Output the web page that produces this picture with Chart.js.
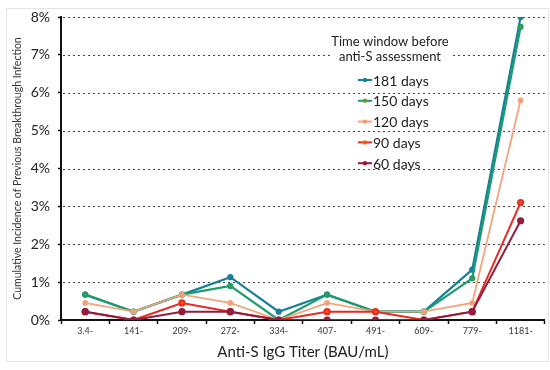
<!DOCTYPE html>
<html>
<head>
<meta charset="utf-8">
<script src="https://cdn.jsdelivr.net/npm/chart.js@4.4.1/dist/chart.umd.min.js"></script>
<style>
  html, body { margin: 0; padding: 0; background: #fff; }
  #wrap { position: relative; width: 550px; height: 370px; }
  #frame { position: absolute; left: 6px; top: 8px; width: 541px; height: 352px; border: 1px solid #e4e4e4; pointer-events: none; }
</style>
</head>
<body>
<div id="wrap">
  <canvas id="myChart" width="550" height="370"></canvas>
  <div id="frame"></div>
</div>
<script>
// titer bins along the x axis
var titers = ['3.4-', '141-', '209-', '272-', '334-', '407-', '491-', '609-', '779-', '1181-'];

// cumulative incidence (%) per time window
var days181 = [0.67, 0.22, 0.67, 1.13, 0.22, 0.67, 0.22, 0.22, 1.33, 8.0];
var days150 = [0.67, 0.22, 0.67, 0.90, 0.00, 0.67, 0.22, 0.22, 1.10, 7.74];
var days120 = [0.45, 0.22, 0.67, 0.45, 0.00, 0.45, 0.22, 0.22, 0.45, 5.80];
var days90  = [0.22, 0.00, 0.45, 0.22, 0.00, 0.22, 0.22, 0.00, 0.22, 3.10];
var days60  = [0.22, 0.00, 0.22, 0.22, 0.00, 0.00, 0.00, 0.00, 0.22, 2.62];

var yTicks = [0, 1, 2, 3, 4, 5, 6, 7, 8];

var legendTitle = ['Time window before', 'anti-S assessment'];

// dotted horizontal grid, drawn under the lines
var dottedGrid = {
  id: 'dottedGrid',
  beforeDatasetsDraw(chart) {
    var ctx = chart.ctx, y = chart.scales.y, a = chart.chartArea;
    ctx.save();
    ctx.strokeStyle = '#444';
    ctx.lineWidth = 1.2;
    ctx.setLineDash([2, 3]);
    yTicks.forEach(function (v) {
      if (v === 0) return;
      var py = Math.round(y.getPixelForValue(v)) + 0.5;
      ctx.beginPath();
      ctx.moveTo(a.left + 2, py);
      ctx.lineTo(a.right, py);
      ctx.stroke();
    });
    ctx.restore();
  }
};

// legend drawn inside the plot, like the original
var insideLegend = {
  id: 'insideLegend',
  afterDatasetsDraw(chart) {
    var ctx = chart.ctx;
    ctx.save();
    // white box behind the title cuts the 7% grid line
    ctx.fillStyle = '#fff';
    ctx.fillRect(330, 34, 122, 30);
    ctx.font = '13px Lato';
    ctx.fillStyle = '#222';
    ctx.textAlign = 'center';
    ctx.textBaseline = 'middle';
    ctx.fillText(legendTitle[0], 390, 42);
    ctx.fillText(legendTitle[1], 390, 57);
    ctx.textAlign = 'left';
    ctx.font = '14px Lato';
    var items = chart.data.datasets;
    items.forEach(function (ds, i) {
      var y = 80 + i * 20.8;
      ctx.strokeStyle = ds.borderColor;
      ctx.lineWidth = 2;
      ctx.beginPath();
      ctx.moveTo(358, y);
      ctx.lineTo(372, y);
      ctx.stroke();
      ctx.fillStyle = ds.pointBackgroundColor;
      ctx.beginPath();
      ctx.arc(365, y, 2.2, 0, Math.PI * 2);
      ctx.fill();
      ctx.fillStyle = '#222';
      ctx.fillText(ds.label, 373, y + 1);
    });
    ctx.restore();
  }
};

var ctx = document.getElementById('myChart');
var myChart = new Chart(ctx, {
  type: 'line',
  data: {
    labels: titers,
    datasets: [
      {
        label: '181 days',
        data: days181,
        borderColor: '#16809a',
        pointBackgroundColor: '#16809a',
        borderWidth: 2.2,
        order: 5
      },
      {
        label: '150 days',
        data: days150,
        borderColor: '#1c9c6c',
        pointBackgroundColor: '#6c9a3a',
        borderWidth: 2.2,
        order: 4
      },
      {
        label: '120 days',
        data: days120,
        borderColor: '#f2a47c',
        pointBackgroundColor: '#ef9c74',
        borderWidth: 1.8,
        order: 3
      },
      {
        label: '90 days',
        data: days90,
        borderColor: '#e42a22',
        pointBackgroundColor: '#f55a10',
        borderWidth: 2,
        pointRadius: 2.6,
        order: 2
      },
      {
        label: '60 days',
        data: days60,
        borderColor: '#931c3e',
        pointBackgroundColor: '#931c3e',
        borderWidth: 2,
        pointRadius: 2.6,
        order: 1
      }
    ]
  },
  options: {
    responsive: false,
    animation: false,
    layout: { padding: { left: 0, right: 5, top: 17, bottom: 0 } },
    elements: {
      line: { tension: 0, fill: false },
      point: { radius: 2, borderWidth: 0, hoverRadius: 3 }
    },
    plugins: {
      legend: { display: false },
      tooltip: { enabled: false }
    },
    scales: {
      x: {
        offset: true,
        afterFit: function (s) { s.height = 50; },
        grid: {
          display: true,
          offset: true,
          drawOnChartArea: false,
          drawTicks: true,
          tickLength: 4,
          tickColor: '#111',
          tickWidth: 1.5
        },
        border: { display: true, color: '#111', width: 2 },
        ticks: {
          font: { family: 'Lato', size: 9 },
          color: '#333',
          padding: 2,
          maxRotation: 0,
          autoSkip: false
        },
        title: {
          display: true,
          text: 'Anti-S IgG Titer (BAU/mL)',
          font: { family: 'Lato', size: 15 },
          color: '#222',
          padding: { top: 0, bottom: 9 }
        }
      },
      y: {
        min: 0,
        max: 8,
        afterFit: function (s) { s.width = 61; },
        afterBuildTicks: function (s) {
          s.ticks = yTicks.map(function (v) { return { value: v }; });
        },
        grid: {
          drawOnChartArea: false,
          drawTicks: true,
          tickLength: 3,
          tickColor: '#111',
          tickWidth: 1.5
        },
        border: { display: true, color: '#111', width: 2 },
        ticks: {
          font: { family: 'Lato', size: 14 },
          color: '#222',
          padding: 8,
          callback: function (v) { return v + '%'; }
        },
        title: {
          display: true,
          text: 'Cumulative Incidence of Previous Breakthrough Infection',
          font: { family: 'Lato', size: 10.5 },
          color: '#333',
          padding: { top: 11, bottom: 0 }
        }
      }
    }
  },
  plugins: [dottedGrid, insideLegend]
});
</script>
</body>
</html>
